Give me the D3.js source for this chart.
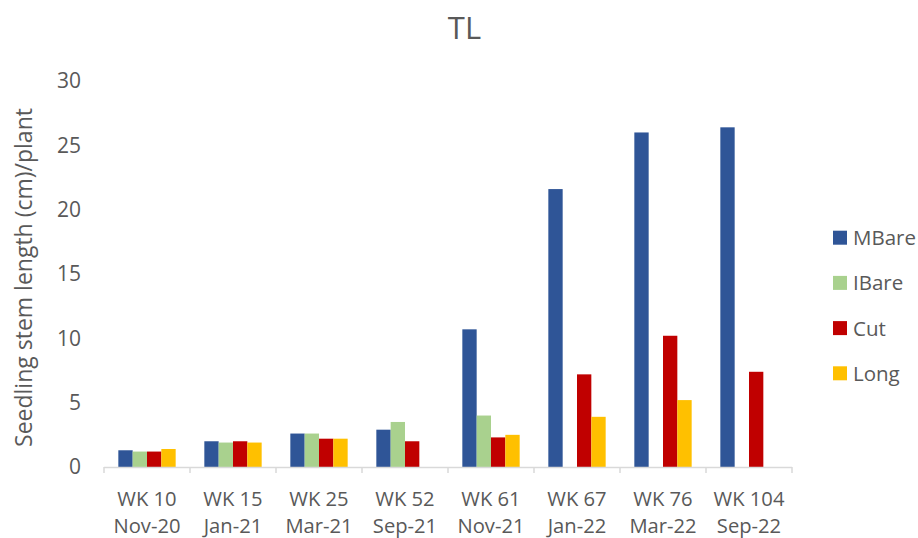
<!DOCTYPE html>
<html>
<head>
<meta charset="utf-8">
<script src="https://cdn.jsdelivr.net/npm/d3@7"></script>
<style>
  html, body { margin: 0; padding: 0; background: #fff; }
  svg { display: block; font-family: "Open Sans", Lato, sans-serif; }
</style>
</head>
<body>
<svg id="chart" width="918" height="538"></svg>
<script>
// Sampling weeks and dates (two-line category labels)
const weeks = ["WK 10", "WK 15", "WK 25", "WK 52", "WK 61", "WK 67", "WK 76", "WK 104"];
const dates = ["Nov-20", "Jan-21", "Mar-21", "Sep-21", "Nov-21", "Jan-22", "Mar-22", "Sep-22"];

const seriesNames = ["MBare", "IBare", "Cut", "Long"];
const seriesColors = ["#2F5597", "#A9D18E", "#C00000", "#FFC000"];

// Mean seedling stem length (cm) per plant; null = not measured
const mbare = [1.3, 2.0, 2.6, 2.9, 10.7, 21.6, 26.0, 26.4];
const ibare = [1.2, 1.9, 2.6, 3.5, 4.0, null, null, null];
const cut   = [1.2, 2.0, 2.2, 2.0, 2.3, 7.2, 10.2, 7.4];
const long  = [1.4, 1.9, 2.2, null, 2.5, 3.9, 5.2, null];

const yTicks = [0, 5, 10, 15, 20, 25, 30];

const values = [mbare, ibare, cut, long];

const textColor = "#595959";
const svg = d3.select("#chart");
const plot = { left: 104, right: 792, top: 81, bottom: 467 };

const x0 = d3.scaleBand()
  .domain(weeks)
  .range([plot.left, plot.right])
  .paddingInner(1 / 3)
  .paddingOuter(1 / 6);

const x1 = d3.scaleBand()
  .domain(seriesNames)
  .range([0, x0.bandwidth()]);

const y = d3.scaleLinear().domain([0, 30]).range([plot.bottom, plot.top]);

// Title
svg.append("text")
  .attr("x", 464.5).attr("y", 39)
  .attr("text-anchor", "middle")
  .attr("font-size", 31)
  .attr("fill", textColor)
  .text("TL");

// Y axis labels (no axis line)
const yAxis = d3.axisLeft(y).tickValues(yTicks).tickSize(0).tickPadding(0);
svg.append("g")
  .attr("transform", `translate(${plot.left - 23},0)`)
  .call(yAxis)
  .call(g => g.select(".domain").remove())
  .call(g => g.selectAll("text")
    .attr("font-size", 21)
    .attr("font-family", "'Open Sans', Lato, sans-serif")
    .attr("fill", textColor));

// Y axis title
svg.append("text")
  .attr("transform", `translate(32,277.5) rotate(-90)`)
  .attr("text-anchor", "middle")
  .attr("font-size", 23)
  .attr("fill", textColor)
  .text("Seedling stem length (cm)/plant");

// Bars
const groups = svg.append("g").selectAll("g")
  .data(weeks)
  .join("g")
  .attr("transform", d => `translate(${x0(d)},0)`);

groups.selectAll("rect")
  .data((d, i) => seriesNames.map((s, k) => ({ s, k, v: values[k][i] })).filter(e => e.v != null))
  .join("rect")
  .attr("x", e => x1(e.s))
  .attr("width", x1.bandwidth())
  .attr("y", e => y(e.v))
  .attr("height", e => y(0) - y(e.v))
  .attr("fill", e => seriesColors[e.k]);

// X axis line with category boundary ticks
const xAxisG = svg.append("g");
xAxisG.append("line")
  .attr("x1", plot.left).attr("x2", plot.right)
  .attr("y1", plot.bottom + 0.5).attr("y2", plot.bottom + 0.5)
  .attr("stroke", "#D9D9D9").attr("stroke-width", 1.5);
const step = x0.step();
xAxisG.selectAll("line.tick")
  .data(d3.range(weeks.length + 1))
  .join("line")
  .attr("class", "tick")
  .attr("x1", i => plot.left + i * step).attr("x2", i => plot.left + i * step)
  .attr("y1", plot.bottom).attr("y2", plot.bottom + 6)
  .attr("stroke", "#D9D9D9").attr("stroke-width", 1.5);

// Category labels: week on the first line, month below
const labelG = svg.append("g")
  .attr("font-size", 20.2)
  .attr("fill", textColor)
  .attr("text-anchor", "middle");
labelG.selectAll("text.wk")
  .data(weeks)
  .join("text")
  .attr("class", "wk")
  .attr("x", d => x0(d) + x0.bandwidth() / 2)
  .attr("y", 505.5)
  .text(d => d);
labelG.selectAll("text.date")
  .data(weeks)
  .join("text")
  .attr("class", "date")
  .attr("x", d => x0(d) + x0.bandwidth() / 2)
  .attr("y", 533.2)
  .text((d, i) => dates[i]);

// Legend
const legend = svg.append("g").selectAll("g")
  .data(seriesNames)
  .join("g")
  .attr("transform", (d, i) => `translate(833,${237.7 + i * 45.2})`);
legend.append("rect")
  .attr("x", 0).attr("y", -7)
  .attr("width", 14).attr("height", 14)
  .attr("fill", (d, i) => seriesColors[i]);
legend.append("text")
  .attr("x", 20).attr("y", 7.5)
  .attr("font-size", 20.5)
  .attr("fill", textColor)
  .text(d => d);
</script>
</body>
</html>
